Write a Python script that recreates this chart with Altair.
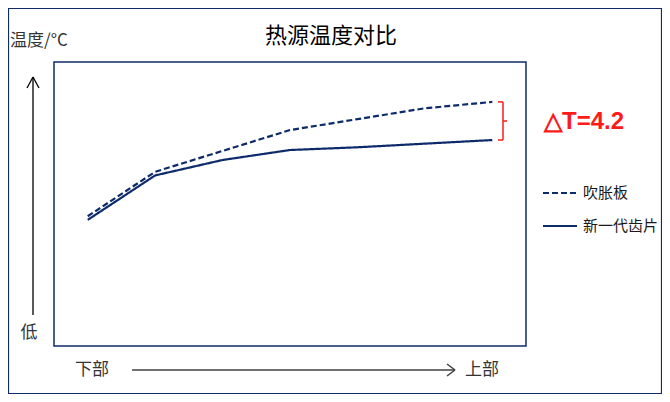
import altair as alt
import pandas as pd

# ---- data ----
x_idx = [0, 1, 2, 3, 4, 5, 6]
series_names = ["吹胀板", "新一代齿片"]
dashed_vals = [39.3, 44.2, 46.5, 48.8, 50.0, 51.2, 51.9]
solid_vals = [38.9, 43.8, 45.5, 46.6, 46.9, 47.3, 47.7]
title_text = "热源温度对比"
y_label = "温度/°C"
low_label = "低"
x_low_label = "下部"
x_high_label = "上部"
delta_label = "△T=4.2"

# ---- style ----
NAVY = "#0d2b6b"
RED = "#ff1a1a"
CJK = "Noto Sans CJK SC"
W, H = 472, 284
PL, PT, PR, PB = 46, 54, 136, 48

df = pd.DataFrame({
    "pos": x_idx * 2,
    "temp": dashed_vals + solid_vals,
    "series": [series_names[0]] * len(x_idx) + [series_names[1]] * len(x_idx),
})

x_scale = alt.Scale(domain=[-0.5, 6.5], nice=False, zero=False)
y_scale = alt.Scale(domain=[25, 56.3], nice=False, zero=False)
dash_scale = alt.Scale(domain=series_names, range=[[6, 3], [1, 0]])

lines = alt.Chart(df).mark_line(strokeWidth=2.2, color=NAVY).encode(
    x=alt.X("pos:Q", scale=x_scale, axis=None),
    y=alt.Y("temp:Q", scale=y_scale, axis=None),
    strokeDash=alt.StrokeDash("series:N", scale=dash_scale, legend=None),
    detail="series:N",
)

# bracket for the end difference
bdf = pd.DataFrame({
    "top": [dashed_vals[-1]],
    "bot": [solid_vals[-1]],
    "mid": [(dashed_vals[-1] + solid_vals[-1]) / 2],
})
bx = 449
br_base = alt.Chart(bdf)
br_v = br_base.mark_rule(color=RED, strokeWidth=1.5).encode(
    x=alt.value(bx), y=alt.Y("top:Q", scale=y_scale, axis=None), y2="bot:Q")
br_t = br_base.mark_rule(color=RED, strokeWidth=1.5).encode(
    x=alt.value(bx - 5), x2=alt.value(bx), y=alt.Y("top:Q", scale=y_scale, axis=None))
br_b = br_base.mark_rule(color=RED, strokeWidth=1.5).encode(
    x=alt.value(bx - 5), x2=alt.value(bx), y=alt.Y("bot:Q", scale=y_scale, axis=None))
br_m = br_base.mark_rule(color=RED, strokeWidth=1.5).encode(
    x=alt.value(bx), x2=alt.value(bx + 4), y=alt.Y("mid:Q", scale=y_scale, axis=None))

one = pd.DataFrame({"k": [0]})
base = alt.Chart(one)


def txt(s, x, y, size, color="#1a1a1a", align="center", font=CJK, weight="normal"):
    return base.mark_text(font=font, fontSize=size, color=color, align=align,
                          baseline="middle", fontWeight=weight).encode(
        x=alt.value(x), y=alt.value(y), text=alt.value(s))


def seg(x1, y1, x2, y2, color="#000000", sw=1.3, dash=None):
    kw = dict(color=color, strokeWidth=sw)
    if dash:
        kw["strokeDash"] = dash
    return base.mark_rule(**kw).encode(
        x=alt.value(x1), y=alt.value(y1), x2=alt.value(x2), y2=alt.value(y2))


layers = [
    # outer frame
    base.mark_rect(fill=None, stroke=NAVY, strokeWidth=1.2).encode(
        x=alt.value(-PL + 0.5), x2=alt.value(W + PR - 0.5),
        y=alt.value(-PT + 0.5), y2=alt.value(H + PB - 0.5)),
    lines, br_v, br_t, br_b, br_m,
    txt(title_text, 277, -26, 22, color="#000000"),
    txt(y_label, -44, -21, 17, align="left", color="#333333"),
    txt(low_label, -25, 271, 17, color="#333333"),
    txt(x_low_label, 38, 308, 17, color="#333333"),
    txt(x_high_label, 428, 308, 17, color="#333333"),
    txt(delta_label, 490, 60, 24, color=RED, align="left",
        font="Liberation Sans", weight="bold"),
    # vertical arrow
    seg(-21, 15, -21, 253),
    seg(-21, 15, -27, 26),
    seg(-21, 15, -15, 26),
    # horizontal arrow
    seg(78, 308, 401, 308, color="#404040", sw=1.5),
    seg(401, 308, 393, 302, color="#404040", sw=1.5),
    seg(401, 308, 393, 314, color="#404040", sw=1.5),
    # legend
    seg(489, 131, 523, 131, color=NAVY, sw=2.2, dash=[6, 3]),
    txt(series_names[0], 529, 131, 15, align="left", color="#1a1a1a"),
    seg(489, 164, 523, 164, color=NAVY, sw=2.2),
    txt(series_names[1], 529, 164, 15, align="left", color="#1a1a1a"),
]

chart = alt.layer(*layers).properties(
    width=W, height=H,
    padding={"left": PL, "top": PT, "right": PR, "bottom": PB},
    autosize="none",
    background="white",
).configure_view(stroke=NAVY, strokeWidth=1.5)

chart.save("out.html", embed_options={"renderer": "svg", "actions": False})
